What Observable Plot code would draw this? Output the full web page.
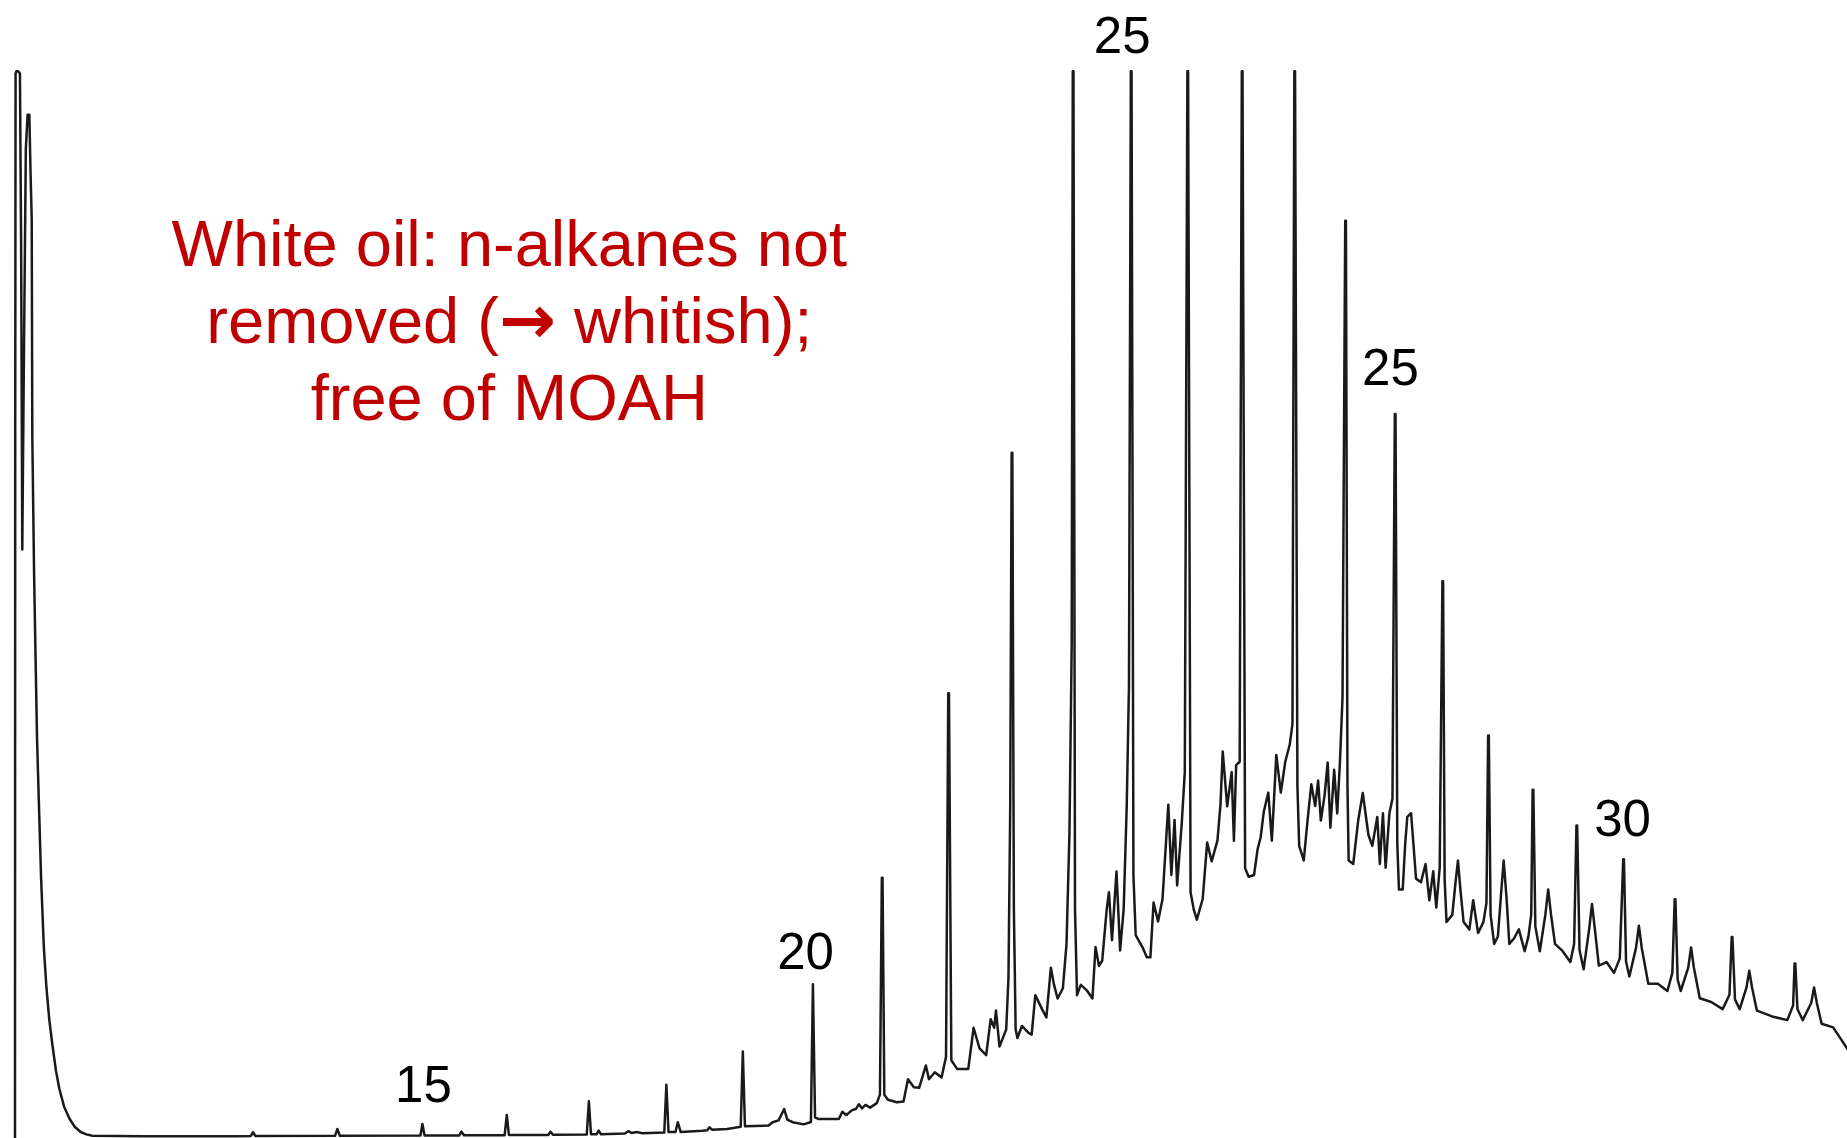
<!DOCTYPE html>
<html>
<head>
<meta charset="utf-8">
<script src="https://cdn.jsdelivr.net/npm/d3@7"></script>
<script src="https://cdn.jsdelivr.net/npm/@observablehq/plot@0.6"></script>
<style>
  html, body { margin: 0; padding: 0; background: #fff; }
  #chart svg { display: block; }
</style>
</head>
<body>
<div id="chart"></div>
<script>
// Retention time (arbitrary units) and detector signal (arbitrary units).
const solventPeak = [
  [12.3, 0], [12.5, 600], [12.8, 904], [13.5, 906], [15, 906], [16.5, 904], [17.5, 760], [18.5, 500],
  [19.5, 620], [21.5, 840], [23, 869], [24.5, 869], [25.5, 820], [26.5, 781], [27, 596], [28.5, 480],
  [29.7, 412], [31, 340], [32.5, 288], [34.5, 220], [36.8, 162], [39, 128], [41.5, 100], [44, 80],
  [47, 58], [50, 42], [54, 27], [58.5, 17], [63, 10], [68, 5.5], [73, 3.5], [78, 2.4]
];

const earlyBaseline = [
  [120, 1.9], [200, 2], [212.5, 2.2], [214.4, 5.3], [216.3, 2.2], [284, 2.3], [286, 8.1], [288, 2.4],
  [356.5, 2.5], [358.2, 12.3], [360, 2.6], [389.5, 2.6], [391.3, 5.8], [393.5, 2.7], [428, 2.8],
  [429.8, 20], [431.6, 3], [465, 3], [466.9, 5.8], [469, 3.1], [497.7, 3.3], [499.5, 31.6], [501.3, 3.6],
  [506, 3.6], [507.8, 6.7], [509.8, 3.6], [530, 4.2], [533, 6.2], [536, 4.6], [540, 5.5], [545, 4.5],
  [563.5, 5], [565.3, 45.7], [567.1, 5.5], [573, 5.5], [575, 13.8], [577.5, 5.5], [596, 6.5], [600, 7],
  [601.9, 9.5], [604, 7.5], [617, 8], [628.4, 10], [630.2, 73.8], [632, 10.5], [652, 11], [655.5, 13.8],
  [660.5, 15.4], [665.3, 25], [668, 16], [672.5, 13.8], [682, 12], [688, 14], [689.7, 131], [691.5, 18],
  [694.6, 16.5], [711.7, 16.5], [714.7, 22.7], [718, 20], [723, 24.1], [726.1, 25], [728.7, 29.1],
  [731.4, 25.6], [734.4, 28.5], [738.2, 26.2], [743.9, 30], [746.6, 37.2], [748.2, 221.3], [748.8, 221.3],
  [750.3, 37.2], [753.4, 32.9], [761, 30.8], [766.6, 31.4], [770.4, 50.3], [775.4, 43.6], [779.9, 43],
  [785.6, 62], [788.2, 50.3], [793.2, 56.2], [798.9, 51.8], [802.7, 69.3], [804.6, 378], [805.2, 378],
  [807.2, 66.4], [812.1, 59.1], [821.6, 59.1], [826.1, 94], [831.1, 76.6], [836.8, 70.7], [840.6, 101.3],
  [843.6, 94], [845.1, 108.6], [848.1, 78], [853.8, 92.6], [855.7, 136.3], [857.2, 282], [858.4, 582],
  [859, 582], [860.3, 194.5], [861.8, 92.6], [863.3, 85.3], [867.1, 95.5], [872.8, 89.7], [875.4, 88.2],
  [878.5, 121.7], [884.1, 110], [887.9, 102.8], [891.7, 145], [894.4, 130.4], [897.4, 118.8],
  [901.9, 127.5], [905, 165.4], [907.5, 260], [909.4, 420]
];

const humpRegion = [
  [910.3, 906], [910.9, 906], [912.2, 194.5], [913.9, 121.7], [917.1, 130.4], [922, 126], [927, 118.8],
  [929.6, 162.5], [932.6, 146.5], [935.3, 150.9], [939.1, 194.5], [941, 209.1], [943.6, 168.3],
  [947.4, 226.6], [950.5, 159.6], [953.5, 194.5], [956.1, 282], [958, 384], [959.6, 906], [960.2, 906],
  [961.8, 223.7], [963.7, 172.7], [969.4, 162.5], [973.2, 153.8], [976.2, 153.8], [978.9, 200.4],
  [982.7, 184.3], [986.5, 203.3], [991.4, 283.4], [994, 223.7], [996.7, 270.3], [998.9, 214.9],
  [1002.8, 267.4], [1005.4, 311], [1007.6, 906], [1008.2, 906], [1010.3, 209.1], [1013, 194.5],
  [1015.6, 185.8], [1020.6, 203.3], [1024.4, 251.3], [1028.2, 235.3], [1033.1, 252.8], [1035.7, 283.4],
  [1037.6, 328.5], [1041.4, 282], [1045.2, 311], [1047.1, 252.8], [1049, 316.9], [1052, 319.8],
  [1053.8, 906], [1054.4, 906], [1056.6, 229.5], [1059.6, 222.2], [1064.2, 223.7], [1067.2, 245.5],
  [1069.8, 255.7], [1072.5, 277.6], [1076.3, 293.6], [1079.3, 252.8], [1083.1, 325.6], [1086.9, 293.6],
  [1090.7, 319.8], [1094.5, 334.4], [1096.8, 351.8], [1098.4, 906], [1099, 906], [1101, 300],
  [1102.5, 248.4], [1106.4, 236], [1109.6, 269.9], [1112.8, 300.7], [1116.1, 282.2], [1118.6, 303.8],
  [1120.9, 269.9], [1124.1, 291.5], [1126.7, 319.2], [1129, 263.8], [1132.2, 313], [1134.8, 276],
  [1137.1, 319.2], [1139.3, 374.6], [1141.6, 779], [1142.2, 779], [1143.5, 300], [1144.5, 236],
  [1148.4, 233], [1152.6, 269.9], [1156.5, 293.3], [1161.3, 257.6], [1164.6, 248.4], [1168.8, 273],
  [1171, 233], [1173.6, 276.1], [1175.9, 229.9], [1179.1, 276.1], [1181.7, 288.4], [1183.7, 615],
  [1184.3, 615], [1185.8, 250], [1187.2, 211.4]
];

const tailRegion = [
  [1190.4, 211.4], [1192.5, 250], [1194.3, 273], [1197.5, 276.1], [1199.5, 250], [1201.7, 220.6],
  [1205.9, 217.6], [1209.8, 233], [1213, 202.2], [1216.3, 226.8], [1218.9, 196], [1221.8, 229.9],
  [1224.1, 473], [1224.7, 473], [1226, 220], [1227.6, 183.7], [1232.5, 189.8], [1235, 215], [1237.3, 236],
  [1239.5, 210], [1242.1, 183.7], [1247, 177.5], [1250.2, 202.2], [1254.4, 174.4], [1258.9, 183.7],
  [1261.5, 200], [1262.9, 342], [1263.5, 342], [1265, 190], [1268, 165.2], [1271.2, 171.4],
  [1273.7, 205], [1276.1, 236], [1278.5, 205], [1280.9, 165.2], [1285, 170], [1289, 177.5],
  [1293.9, 159], [1297.1, 171.4], [1299.5, 190], [1300.7, 296], [1301.3, 296], [1303, 180],
  [1306.8, 159], [1311.5, 190], [1313.9, 211.4], [1316.3, 190], [1319.7, 165.2], [1326.2, 159],
  [1332.7, 149.8], [1335.9, 165.2], [1337.9, 265.6], [1338.5, 265.6], [1340.5, 160], [1344, 143.6],
  [1348.7, 178], [1351.1, 199.1], [1353.5, 178], [1356.9, 146.7], [1363.4, 149.8], [1369.8, 140.6],
  [1374.7, 152.9], [1377.6, 237], [1378.2, 237], [1380, 150], [1382.8, 137.5], [1388.5, 162],
  [1390.9, 180.6], [1393.3, 162], [1398.9, 131.3], [1407, 131.3], [1415.1, 125.2], [1419.3, 140.6],
  [1421.3, 203], [1421.9, 203], [1423.8, 135], [1426.4, 125.2], [1432.8, 145], [1435.2, 162.1],
  [1437.6, 145], [1442.6, 119], [1452.3, 115.9], [1462, 109.8], [1467.8, 122], [1469.7, 171],
  [1470.3, 171], [1472.5, 118], [1476.5, 109.8], [1482.2, 128], [1484.6, 142.4], [1487, 128],
  [1491.1, 108.5], [1504, 103.6], [1516.9, 100.5], [1521.8, 112.8], [1523.1, 148.6], [1523.7, 148.6],
  [1525.5, 110], [1530, 100.5], [1537.2, 115], [1539.6, 128.2], [1542, 115], [1546, 97.4],
  [1555.8, 94.3], [1562, 85], [1568, 76]
];

// Carbon-number labels of the n-alkane peaks
const peakLabels = ["15", "20", "25", "25", "30"];
const peakLabelTime = [359, 683.4, 952.2, 1180, 1377];
const peakLabelSignal = [30.8, 144, 921.3, 639.2, 257.2];

const noteLines = ["White oil: n-alkanes not", "removed (→ whitish);", "free of MOAH"];

const trace = [...solventPeak, ...earlyBaseline, ...humpRegion, ...tailRegion]
  .map(([t, s]) => ({t, s}));
const labels = peakLabels.map((text, i) => ({text, t: peakLabelTime[i], s: peakLabelSignal[i]}));

const chart = Plot.plot({
  width: 1847,
  height: 1138,
  margin: 0,
  style: {fontFamily: "'Liberation Sans', Arial, Helvetica, sans-serif", background: "#fff", color: "#000"},
  x: {domain: [0, 1568], axis: null},
  y: {domain: [0, 966], axis: null},
  marks: [
    Plot.line(trace, {x: "t", y: "s", stroke: "#1a1a1a", strokeWidth: 2.5, strokeLinejoin: "round"}),
    Plot.text(labels, {x: "t", y: "s", text: "text", fontSize: 51, fill: "#000", textAnchor: "middle", lineAnchor: "bottom"}),
    Plot.text([noteLines.join("\n")], {x: () => 432, y: () => 786.5, text: d => d, fontSize: 65, lineHeight: 1.18,
      fill: "#C00000", textAnchor: "middle", lineAnchor: "top"})
  ]
});

// Render the arrow glyph in a heavier face, as in the original annotation
chart.querySelectorAll("tspan").forEach(ts => {
  const str = ts.textContent;
  const i = str.indexOf("→");
  if (i < 0 || ts.children.length) return;
  ts.textContent = "";
  const parts = [str.slice(0, i), "→", str.slice(i + 1)];
  parts.forEach((p, k) => {
    const sp = document.createElementNS("http://www.w3.org/2000/svg", "tspan");
    sp.textContent = p;
    if (k === 1) {
      sp.setAttribute("font-family", "'DejaVu Sans', sans-serif");
      sp.setAttribute("font-weight", "bold");
      sp.setAttribute("font-size", "68");
    }
    ts.appendChild(sp);
  });
});

document.getElementById("chart").append(chart);
</script>
</body>
</html>
